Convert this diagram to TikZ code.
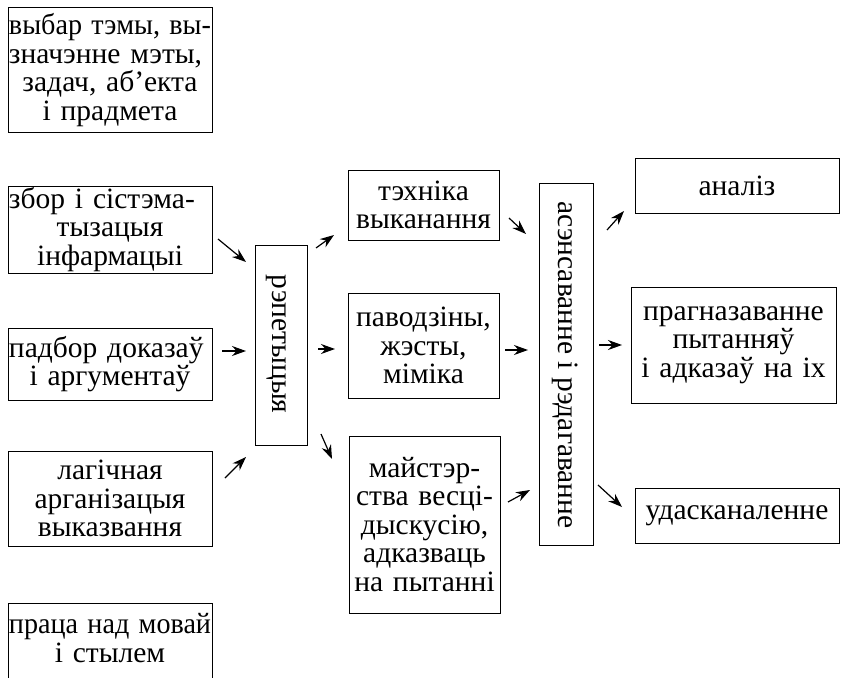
\documentclass[tikz,border=0pt]{standalone}
\usepackage{fontspec}
\usepackage{graphicx}
\setmainfont{Liberation Serif}
\usetikzlibrary{arrows.meta}
\newcommand\bxfont{\fontsize{29.5}{28.5}\selectfont\lineskiplimit=-50pt\lineskip=0pt\relax}
\newcommand\jline[1]{\setbox0=\hbox{#1}\ifdim\wd0>202pt\resizebox{202pt}{\height}{#1}\else\makebox[202pt][s]{#1}\fi}
\begin{document}
\begin{tikzpicture}[x=1pt,y=-1pt,
  box/.style={draw,line width=1pt,inner sep=0pt,align=center,font=\bxfont},
  frame/.style={draw,line width=1pt,inner sep=0pt},
  vtext/.style={inner sep=0pt,rotate=-90,font=\bxfont},
  arr/.style={line width=1.2pt,-{Stealth[length=14pt,width=10pt]}}]
\useasboundingbox (0,0) rectangle (842,677);
\fill[white] (0,0) rectangle (842,677);
% left column
\node[box,minimum width=204pt,minimum height=124pt,text width=202pt] (b1) at (110,70)
  {\jline{выбар тэмы, вы-}\\\jline{значэнне мэты,}\\\mbox{задач, аб’екта}\\і прадмета};
\node[box,minimum width=204pt,minimum height=87pt,text width=202pt] (b2) at (110,229.5)
  {\jline{збор і сістэма-}\\тызацыя\\інфармацыі};
\node[box,minimum width=204pt,minimum height=72pt,text width=202pt] (b3) at (110,364)
  {\jline{падбор доказаў}\\і аргументаў};
\node[box,minimum width=204pt,minimum height=95pt,text width=202pt] (b4) at (110,498.5)
  {лагічная\\арганізацыя\\выказвання};
\draw[line width=1pt] (8,690) |- (212,603) -- (212,690);
\node[inner sep=0pt,align=center,text width=202pt,font=\bxfont] (b5) at (110,638)
  {\jline{праца над мовай}\\і стылем};
% repetycyja
\node[frame,minimum width=52pt,minimum height=200pt] (rep) at (281,345) {};
\node[vtext] (rept) at (276,344) {рэпетыцыя};
% middle column
\node[box,minimum width=151pt,minimum height=70pt,text width=149pt] (m1) at (423.5,205)
  {тэхніка\\выканання};
\node[box,minimum width=151pt,minimum height=105pt,text width=149pt] (m2) at (423.5,345.5)
  {паводзіны,\\жэсты,\\міміка};
\node[box,minimum width=151pt,minimum height=177pt,text width=149pt] (m3) at (424.5,524.5)
  {майстэр-\\ства весці-\\дыскусію,\\адказваць\\на пытанні};
% asensavanne
\node[frame,minimum width=54pt,minimum height=362pt] (ase) at (566,364.5) {};
\node[vtext] (aset) at (565,365) {асэнсаванне і рэдагаванне};
% right column
\node[box,minimum width=204pt,minimum height=55pt,text width=202pt] (r1) at (737,185.5)
  {аналіз};
\node[box,minimum width=205pt,minimum height=116pt,text width=203pt] (r2) at (733.5,345)
  {прагназаванне\\пытанняў\\і адказаў на іх};
\node[box,minimum width=204pt,minimum height=55pt,text width=204pt] (r3) at (737,515.5)
  {удасканаленне};
% arrow end points
\coordinate (a1s) at (218,239); \coordinate (a1e) at (246,262);
\coordinate (a2s) at (222,351); \coordinate (a2e) at (246,351);
\coordinate (a3s) at (225,478); \coordinate (a3e) at (246,457);
\coordinate (a4s) at (316,248); \coordinate (a4e) at (334,235);
\coordinate (a5s) at (318,349); \coordinate (a5e) at (335,349);
\coordinate (a6s) at (321,434); \coordinate (a6e) at (332,459);
\coordinate (a7s) at (509,218); \coordinate (a7e) at (526,234);
\coordinate (a8s) at (505,350); \coordinate (a8e) at (528,350);
\coordinate (a9s) at (508,502); \coordinate (a9e) at (530,490);
\coordinate (a10s) at (607,230); \coordinate (a10e) at (624,211);
\coordinate (a11s) at (599,345); \coordinate (a11e) at (622,345);
\coordinate (a12s) at (598,485); \coordinate (a12e) at (622,507);
\foreach \i in {1,...,12} \draw[arr] (a\i s) -- (a\i e);
\end{tikzpicture}
\end{document}
